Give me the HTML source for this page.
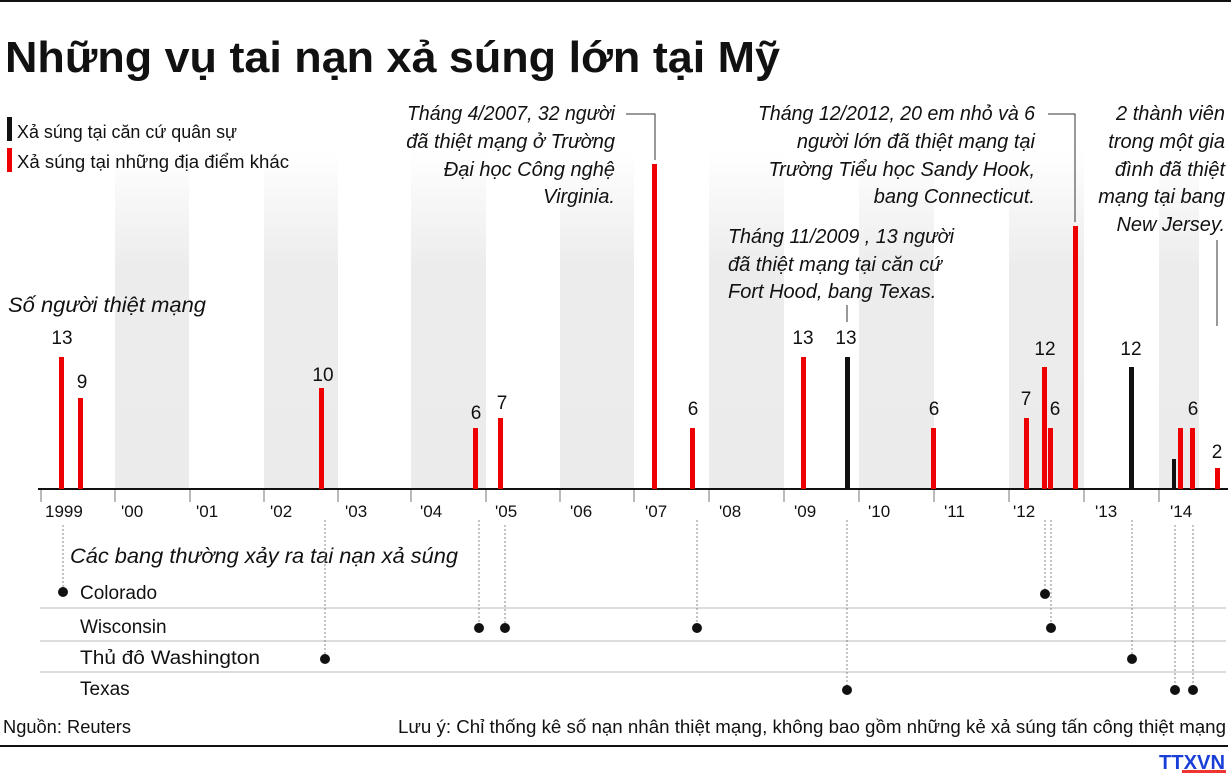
<!DOCTYPE html>
<html><head><meta charset="utf-8"><style>
html,body{margin:0;padding:0;background:#fff}
svg{display:block}
text{font-family:"Liberation Sans",sans-serif;fill:#111}
.it{font-style:italic}
</style></head><body>
<svg width="1231" height="776" viewBox="0 0 1231 776" xmlns="http://www.w3.org/2000/svg">
<defs>
<linearGradient id="g" x1="0" y1="0" x2="0" y2="1">
<stop offset="0" stop-color="#fff"/><stop offset="0.35" stop-color="#ececec"/><stop offset="1" stop-color="#ebebeb"/>
</linearGradient>
</defs>
<rect x="0" y="0" width="1231" height="2" fill="#111"/>
<text x="5" y="72" font-size="44" font-weight="bold" textLength="775" lengthAdjust="spacingAndGlyphs">Những vụ tai nạn xả súng lớn tại Mỹ</text>
<!-- bands -->
<g fill="url(#g)">
<rect x="115" y="150" width="74" height="339"/>
<rect x="264" y="150" width="74" height="339"/>
<rect x="411" y="150" width="75" height="339"/>
<rect x="560" y="150" width="74" height="339"/>
<rect x="709" y="150" width="75" height="339"/>
<rect x="859" y="150" width="75" height="339"/>
<rect x="1009" y="150" width="75" height="339"/>
<rect x="1159" y="150" width="40" height="339"/>
</g>
<!-- legend -->
<rect x="7" y="117" width="5" height="24" fill="#111"/>
<rect x="7" y="148" width="5" height="24" fill="#e00"/>
<text x="17" y="138" font-size="18" textLength="220" lengthAdjust="spacingAndGlyphs">Xả súng tại căn cứ quân sự</text>
<text x="17" y="168" font-size="18" textLength="272" lengthAdjust="spacingAndGlyphs">Xả súng tại những địa điểm khác</text>
<text x="8" y="312" font-size="21" class="it" textLength="198" lengthAdjust="spacingAndGlyphs">Số người thiệt mạng</text>
<!-- annotations -->
<g font-size="20" class="it" text-anchor="end">
<text x="615" y="120" textLength="208" lengthAdjust="spacingAndGlyphs">Tháng 4/2007, 32 người</text>
<text x="615" y="148">đã thiệt mạng ở Trường</text>
<text x="615" y="176">Đại học Công nghệ</text>
<text x="615" y="203">Virginia.</text>
<text x="1035" y="120" textLength="277" lengthAdjust="spacingAndGlyphs">Tháng 12/2012, 20 em nhỏ và 6</text>
<text x="1035" y="148">người lớn đã thiệt mạng tại</text>
<text x="1035" y="176">Trường Tiểu học Sandy Hook,</text>
<text x="1035" y="203">bang Connecticut.</text>
<text x="1225" y="120">2 thành viên</text>
<text x="1225" y="148">trong một gia</text>
<text x="1225" y="176">đình đã thiệt</text>
<text x="1225" y="203">mạng tại bang</text>
<text x="1225" y="231">New Jersey.</text>
</g>
<g font-size="20" class="it">
<text x="728" y="243" textLength="226" lengthAdjust="spacingAndGlyphs">Tháng 11/2009 , 13 người</text>
<text x="728" y="271">đã thiệt mạng tại căn cứ</text>
<text x="728" y="298">Fort Hood, bang Texas.</text>
</g>
<g stroke="#333" stroke-width="1" fill="none">
<polyline points="626,114 655,114 655,160"/>
<polyline points="1048,114 1075,114 1075,222"/>
<polyline points="1217,240 1217,326"/>
<line x1="847" y1="305" x2="847" y2="322"/>
</g>
<!-- axis -->
<rect x="38" y="488" width="1190" height="2" fill="#111"/>
<g stroke="#777" stroke-width="1">
<line x1="41" y1="490" x2="41" y2="502"/><line x1="115" y1="490" x2="115" y2="502"/><line x1="190" y1="490" x2="190" y2="502"/><line x1="264" y1="490" x2="264" y2="502"/><line x1="338" y1="490" x2="338" y2="502"/><line x1="411" y1="490" x2="411" y2="502"/><line x1="486" y1="490" x2="486" y2="502"/><line x1="560" y1="490" x2="560" y2="502"/><line x1="634" y1="490" x2="634" y2="502"/><line x1="709" y1="490" x2="709" y2="502"/><line x1="784" y1="490" x2="784" y2="502"/><line x1="859" y1="490" x2="859" y2="502"/><line x1="934" y1="490" x2="934" y2="502"/><line x1="1009" y1="490" x2="1009" y2="502"/><line x1="1084" y1="490" x2="1084" y2="502"/><line x1="1159" y1="490" x2="1159" y2="502"/>
</g>
<g font-size="17">
<text x="45" y="517">1999</text>
<text x="121" y="517" fill="#999">'00</text>
<text x="196" y="517" fill="#999">'01</text>
<text x="270" y="517">'02</text>
<text x="345" y="517" fill="#999">'03</text>
<text x="420" y="517">'04</text>
<text x="495" y="517">'05</text>
<text x="570" y="517" fill="#999">'06</text>
<text x="645" y="517">'07</text>
<text x="719" y="517" fill="#999">'08</text>
<text x="794" y="517">'09</text>
<text x="868" y="517" fill="#999">'10</text>
<text x="944" y="517">'11</text>
<text x="1013" y="517">'12</text>
<text x="1095" y="517">'13</text>
<text x="1170" y="517">'14</text>
</g>
<!-- bars -->
<g fill="#e00">
<rect x="59" y="357" width="5" height="132"/>
<rect x="78" y="398" width="5" height="91"/>
<rect x="319" y="388" width="5" height="101"/>
<rect x="473" y="428" width="5" height="61"/>
<rect x="498" y="418" width="5" height="71"/>
<rect x="652" y="164" width="5" height="325"/>
<rect x="690" y="428" width="5" height="61"/>
<rect x="801" y="357" width="5" height="132"/>
<rect x="931" y="428" width="5" height="61"/>
<rect x="1024" y="418" width="5" height="71"/>
<rect x="1042" y="367" width="5" height="122"/>
<rect x="1048" y="428" width="5" height="61"/>
<rect x="1073" y="226" width="5" height="263"/>
<rect x="1178" y="428" width="5" height="61"/>
<rect x="1190" y="428" width="5" height="61"/>
<rect x="1215" y="468" width="5" height="21"/>
</g>
<g fill="#111">
<rect x="845" y="357" width="5" height="132"/>
<rect x="1129" y="367" width="5" height="122"/>
<rect x="1172" y="459" width="4" height="30"/>
</g>
<g font-size="19" text-anchor="middle">
<text x="62" y="344">13</text><text x="82" y="388">9</text><text x="323" y="381">10</text>
<text x="476" y="419">6</text><text x="502" y="409">7</text><text x="693" y="415">6</text>
<text x="803" y="344">13</text><text x="846" y="344">13</text><text x="934" y="415">6</text>
<text x="1026" y="405">7</text><text x="1045" y="355">12</text><text x="1055" y="415">6</text>
<text x="1131" y="355">12</text><text x="1193" y="415">6</text><text x="1217" y="458">2</text>
</g>
<!-- states -->
<text x="70" y="563" font-size="21" class="it" textLength="388" lengthAdjust="spacingAndGlyphs">Các bang thường xảy ra tai nạn xả súng</text>
<g stroke="#bbb" stroke-width="1">
<line x1="40" y1="608" x2="1226" y2="608"/>
<line x1="40" y1="641" x2="1226" y2="641"/>
<line x1="40" y1="672" x2="1226" y2="672"/>
</g>
<g font-size="19">
<text x="80" y="599">Colorado</text>
<text x="80" y="633">Wisconsin</text>
<text x="80" y="664" textLength="180" lengthAdjust="spacingAndGlyphs">Thủ đô Washington</text>
<text x="80" y="695">Texas</text>
</g>
<g stroke="#888" stroke-width="1" stroke-dasharray="2,2">
<line x1="63" y1="525" x2="63" y2="588"/>
<line x1="325" y1="520" x2="325" y2="655"/>
<line x1="479" y1="520" x2="479" y2="624"/>
<line x1="505" y1="525" x2="505" y2="624"/>
<line x1="697" y1="520" x2="697" y2="624"/>
<line x1="847" y1="520" x2="847" y2="686"/>
<line x1="1045" y1="520" x2="1045" y2="590"/>
<line x1="1051" y1="520" x2="1051" y2="624"/>
<line x1="1132" y1="520" x2="1132" y2="655"/>
<line x1="1175" y1="525" x2="1175" y2="686"/>
<line x1="1193" y1="525" x2="1193" y2="686"/>
</g>
<g fill="#111">
<circle cx="63" cy="592" r="5"/>
<circle cx="1045" cy="594" r="5"/>
<circle cx="479" cy="628" r="5"/><circle cx="505" cy="628" r="5"/><circle cx="697" cy="628" r="5"/><circle cx="1051" cy="628" r="5"/>
<circle cx="325" cy="659" r="5"/><circle cx="1132" cy="659" r="5"/>
<circle cx="847" cy="690" r="5"/><circle cx="1175" cy="690" r="5"/><circle cx="1193" cy="690" r="5"/>
</g>
<text x="3" y="733" font-size="18" textLength="128" lengthAdjust="spacingAndGlyphs">Nguồn: Reuters</text>
<text x="1226" y="733" font-size="18" text-anchor="end" textLength="828" lengthAdjust="spacingAndGlyphs">Lưu ý: Chỉ thống kê số nạn nhân thiệt mạng, không bao gồm những kẻ xả súng tấn công thiệt mạng</text>
<rect x="0" y="745" width="1228" height="2" fill="#111"/>
<text x="1159" y="769" font-size="20" font-weight="bold" style="fill:#1a3fd8" textLength="66" lengthAdjust="spacingAndGlyphs">TTXVN</text>
<rect x="1182" y="770" width="44" height="3" fill="#e33"/>
</svg>
</body></html>
